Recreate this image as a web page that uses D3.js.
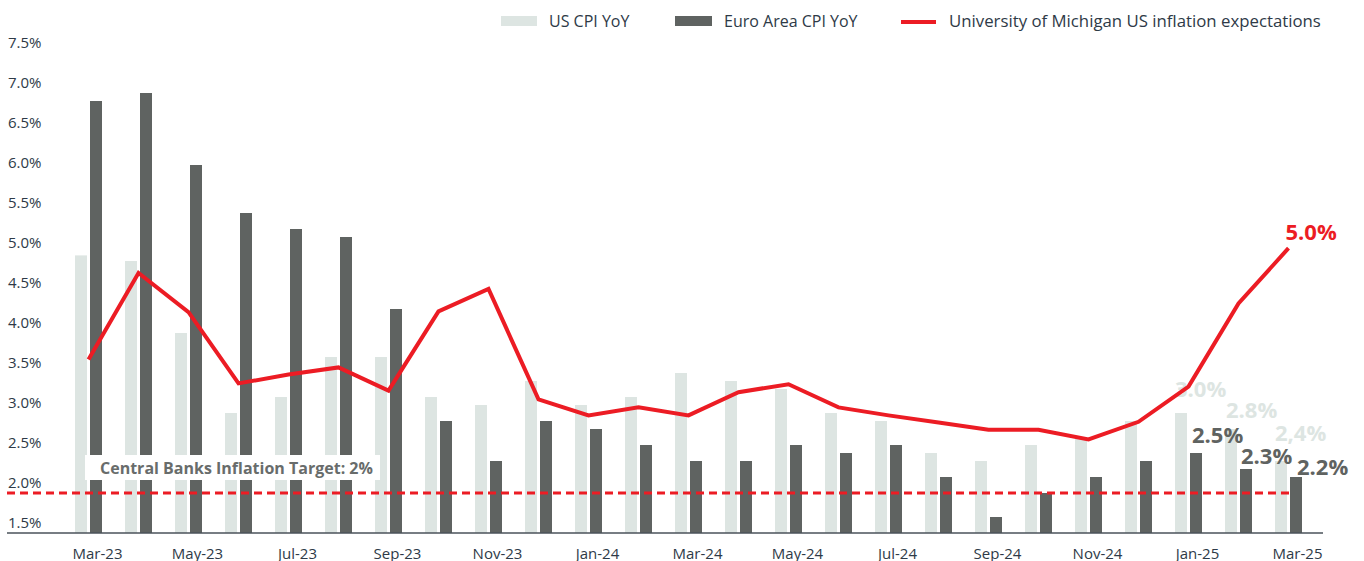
<!DOCTYPE html>
<html>
<head>
<meta charset="utf-8">
<script src="https://cdn.jsdelivr.net/npm/d3@7"></script>
<style>
  body { margin: 0; background: #fff; }
  text { font-family: "Open Sans", sans-serif; }
</style>
</head>
<body>
<script>
// months shown on the x axis (one bar group per month)
var months = ["Mar-23","Apr-23","May-23","Jun-23","Jul-23","Aug-23","Sep-23","Oct-23","Nov-23","Dec-23",
              "Jan-24","Feb-24","Mar-24","Apr-24","May-24","Jun-24","Jul-24","Aug-24","Sep-24","Oct-24",
              "Nov-24","Dec-24","Jan-25","Feb-25","Mar-25"];

// US CPI YoY (light bars)
var usCpi = [4.97, 4.9, 4.0, 3.0, 3.2, 3.7, 3.7, 3.2, 3.1, 3.4,
             3.1, 3.2, 3.5, 3.4, 3.3, 3.0, 2.9, 2.5, 2.4, 2.6,
             2.7, 2.9, 3.0, 2.8, 2.4];

// Euro Area CPI YoY (dark bars)
var euroCpi = [6.9, 7.0, 6.1, 5.5, 5.3, 5.2, 4.3, 2.9, 2.4, 2.9,
               2.8, 2.6, 2.4, 2.4, 2.6, 2.5, 2.6, 2.2, 1.7, 2.0,
               2.2, 2.4, 2.5, 2.3, 2.2];

// University of Michigan 1y inflation expectations (red line)
var michigan = [3.67, 4.75, 4.26, 3.37, 3.48, 3.57, 3.28, 4.27, 4.55, 3.17,
                2.97, 3.07, 2.97, 3.26, 3.36, 3.07, 2.97, 2.88, 2.79, 2.79,
                2.67, 2.89, 3.33, 4.37, 5.06];

var yTicks = [1.5, 2.0, 2.5, 3.0, 3.5, 4.0, 4.5, 5.0, 5.5, 6.0, 6.5, 7.0, 7.5];
var target = 2.0;

// value labels on the last three months
var usLabels = ["3.0%", "2.8%", "2,4%"];
var euroLabels = ["2.5%", "2.3%", "2.2%"];
var michLabel = "5.0%";

var larg = 1364, haut = 561;
var lightC = "#dde5e2", darkC = "#5f6361", redC = "#ec1c24", textC = "#2e3a47";

var svg = d3.select("body").append("svg")
  .attr("width", larg)
  .attr("height", haut);

var y = d3.scaleLinear().domain([1.5, 7.5]).range([533, 53]);

// groups of two bars, 50px apart
var x0 = d3.scaleBand().domain(months).range([75, 1302]).paddingInner(0.46).paddingOuter(0);
var x1 = d3.scaleBand().domain(["us", "eu"]).range([0, x0.bandwidth()]).paddingInner(0.2);
function mid(m) { return x0(m) + x0.bandwidth() / 2; }

// y axis (labels only)
var yAxis = svg.append("g")
  .attr("transform", "translate(0,-10)")
  .call(d3.axisLeft(y).tickValues(yTicks).tickSize(0).tickFormat(function(d) { return d.toFixed(1) + "%"; }));
yAxis.select(".domain").remove();
yAxis.selectAll("text")
  .attr("x", 8)
  .attr("text-anchor", "start")
  .attr("fill", textC)
  .style("font-size", "15px")
  .style("font-family", "'Open Sans', sans-serif");

// bars
var groups = svg.selectAll("g.mois")
  .data(months)
  .enter()
  .append("g")
  .attr("class", "mois")
  .attr("transform", function(m) { return "translate(" + x0(m) + ",0)"; });

groups.append("rect")
  .attr("x", x1("us"))
  .attr("y", function(m, i) { return y(usCpi[i]); })
  .attr("width", x1.bandwidth())
  .attr("height", function(m, i) { return y(1.5) - y(usCpi[i]); })
  .attr("fill", lightC);

groups.append("rect")
  .attr("x", x1("eu"))
  .attr("y", function(m, i) { return y(euroCpi[i]); })
  .attr("width", x1.bandwidth())
  .attr("height", function(m, i) { return y(1.5) - y(euroCpi[i]); })
  .attr("fill", darkC);

// x axis
var xAxis = svg.append("g")
  .attr("transform", "translate(0," + y(1.5) + ")")
  .call(d3.axisBottom(x0).tickValues(months.filter(function(m, i) { return i % 2 == 0; })).tickSize(0).tickPadding(15));
xAxis.select(".domain").remove();
xAxis.selectAll("text")
  .attr("x", 9)
  .attr("fill", textC)
  .style("font-size", "15px")
  .style("font-family", "'Open Sans', sans-serif");

svg.append("line")
  .attr("x1", 7).attr("x2", 1323)
  .attr("y1", y(1.5)).attr("y2", y(1.5))
  .attr("stroke", "#4a525a")
  .attr("stroke-width", 1.5);

// target box + dashed 2% line
svg.append("rect")
  .attr("x", 85).attr("y", 455)
  .attr("width", 295).attr("height", 25)
  .attr("fill", "#fff");
svg.append("text")
  .attr("x", 100).attr("y", 468)
  .attr("dy", "0.35em")
  .attr("fill", "#686c6b")
  .style("font-size", "16px")
  .style("font-weight", "bold")
  .text("Central Banks Inflation Target: 2%");

svg.append("line")
  .attr("x1", 7).attr("x2", 1293)
  .attr("y1", y(target)).attr("y2", y(target))
  .attr("stroke", redC)
  .attr("stroke-width", 3)
  .attr("stroke-dasharray", "8,5");

// end labels
var n = months.length;
var usOff = [[0, -24], [1, -19], [0, -28]];
var euOff = [[2, -18], [1, -13], [7, -10]];
usLabels.forEach(function(t, k) {
  var i = n - 3 + k;
  svg.append("text")
    .attr("x", x0(months[i]) + x1("us") + usOff[k][0])
    .attr("y", y(usCpi[i]) + usOff[k][1])
    .attr("dy", "0.35em")
    .attr("fill", lightC)
    .style("font-size", "22px")
    .style("font-weight", "bold")
    .text(t);
});
euroLabels.forEach(function(t, k) {
  var i = n - 3 + k;
  svg.append("text")
    .attr("x", x0(months[i]) + x1("eu") + euOff[k][0])
    .attr("y", y(euroCpi[i]) + euOff[k][1])
    .attr("dy", "0.35em")
    .attr("fill", darkC)
    .style("font-size", "22px")
    .style("font-weight", "bold")
    .text(t);
});

// Michigan line
var ligne = d3.line()
  .x(function(d, i) { return mid(months[i]); })
  .y(function(d) { return y(d); });

svg.append("path")
  .datum(michigan)
  .attr("d", ligne)
  .attr("fill", "none")
  .attr("stroke", redC)
  .attr("stroke-width", 4)
  .attr("stroke-linejoin", "miter");

svg.append("text")
  .attr("x", mid(months[n - 1]) - 3)
  .attr("y", y(michigan[n - 1]) - 16)
  .attr("dy", "0.35em")
  .attr("fill", redC)
  .style("font-size", "22px")
  .style("font-weight", "bold")
  .text(michLabel);

// legend
var legend = svg.append("g").style("font-size", "16px");
legend.append("rect").attr("x", 501).attr("y", 16).attr("width", 36).attr("height", 10).attr("fill", lightC);
legend.append("text").attr("x", 549).attr("y", 21).attr("dy", "0.35em").attr("fill", textC).text("US CPI YoY");
legend.append("rect").attr("x", 675).attr("y", 16).attr("width", 37).attr("height", 10).attr("fill", darkC);
legend.append("text").attr("x", 724).attr("y", 21).attr("dy", "0.35em").attr("fill", textC).text("Euro Area CPI YoY");
legend.append("line").attr("x1", 901).attr("x2", 936).attr("y1", 22).attr("y2", 22).attr("stroke", redC).attr("stroke-width", 4);
legend.append("text").attr("x", 949).attr("y", 21).attr("dy", "0.35em").attr("fill", textC)
  .style("font-size", "16.8px")
  .text("University of Michigan US inflation expectations");
</script>
</body>
</html>
